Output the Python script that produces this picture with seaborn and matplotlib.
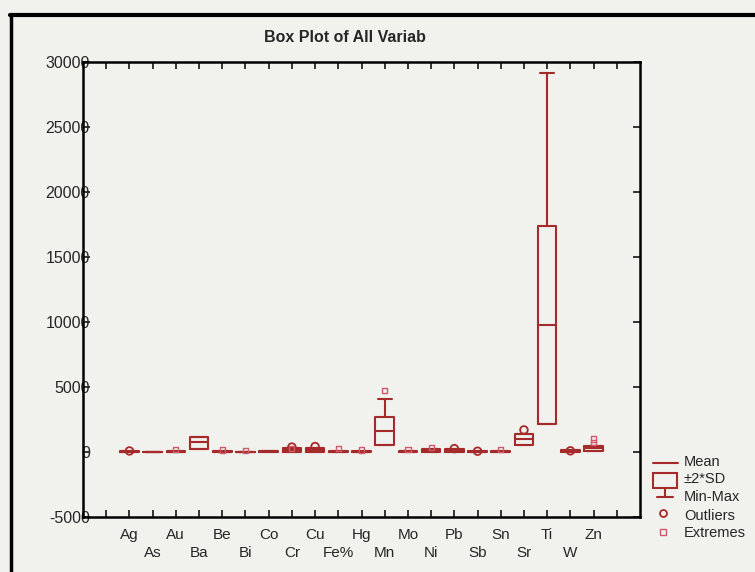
import numpy as np
import pandas as pd
import matplotlib
matplotlib.use("Agg")
import matplotlib.pyplot as plt
import seaborn as sns
from matplotlib.lines import Line2D
from matplotlib.patches import Rectangle

# ---------------- data ----------------
variables = ['Ag', 'As', 'Au', 'Ba', 'Be', 'Bi', 'Co', 'Cr', 'Cu', 'Fe%', 'Hg',
             'Mn', 'Mo', 'Ni', 'Pb', 'Sb', 'Sn', 'Sr', 'Ti', 'W', 'Zn']
means    = [20, 10, 30, 770, 20, 10, 40, 140, 170, 30, 20,
            1615, 40, 110, 150, 30, 30, 1000, 9770, 80, 270]
sd_low   = [-20, 0, 0, 230, 0, 0, 0, 0, 0, 0, 0,
            540, 0, 0, 0, 0, 0, 540, 2150, 0, 100]
sd_high  = [60, 30, 80, 1150, 50, 30, 90, 280, 300, 70, 60,
            2690, 90, 230, 260, 60, 70, 1380, 17400, 160, 450]
mins     = [-20, 0, 0, 230, 0, 0, 0, 0, 0, 0, 0,
            540, 0, 0, 0, 0, 0, 540, 2150, 0, 100]
maxs     = [60, 30, 80, 1150, 50, 30, 90, 280, 300, 70, 60,
            4080, 90, 230, 260, 60, 70, 1380, 29150, 160, 450]

outlier_vars = ['Ag', 'Cr', 'Cu', 'Pb', 'Sb', 'Sr', 'W']
outlier_vals = [80, 380, 420, 260, 60, 1700, 90]
extreme_vars = ['Au', 'Be', 'Bi', 'Cr', 'Fe%', 'Hg', 'Mn', 'Mo', 'Ni', 'Sn', 'Zn', 'Zn']
extreme_vals = [200, 150, 120, 300, 260, 150, 4750, 200, 350, 200, 700, 1000]

yticks = [-5000, 0, 5000, 10000, 15000, 20000, 25000, 30000]
title = "Box Plot of All Variab"
legend_labels = ["Mean", "\u00b12*SD", "Min-Max", "Outliers", "Extremes"]

# ---------------- style ----------------
sns.set_style("white")
plt.rcParams['font.family'] = ['Liberation Sans', 'DejaVu Sans']
RED = '#a52a2a'
PINK = '#cf5a6a'
BG = '#f1f1ee'

W, H = 755, 572
fig = plt.figure(figsize=(W / 100, H / 100), dpi=100, facecolor=BG)
ax = fig.add_axes([83 / W, 1 - 517 / H, (640 - 83) / W, (517 - 62) / H])
ax.set_facecolor(BG)

pos = np.arange(len(variables))
stats = []
for i, v in enumerate(variables):
    stats.append(dict(label=v, med=means[i], q1=sd_low[i], q3=sd_high[i],
                      whislo=mins[i], whishi=maxs[i], fliers=[]))
lp = dict(color=RED, linewidth=1.5)
ax.bxp(stats, positions=pos, widths=0.8, capwidths=0.6, showfliers=False,
       boxprops=lp, medianprops=lp, whiskerprops=lp, capprops=lp)

idx = {v: i for i, v in enumerate(variables)}
df_out = pd.DataFrame({'x': [idx[v] for v in outlier_vars], 'y': outlier_vals})
df_ext = pd.DataFrame({'x': [idx[v] for v in extreme_vars], 'y': extreme_vals})
sns.scatterplot(data=df_out, x='x', y='y', ax=ax, marker='o', s=30,
                facecolor='none', edgecolor=RED, linewidth=1.3, zorder=5)
sns.scatterplot(data=df_ext, x='x', y='y', ax=ax, marker='s', s=14,
                facecolor='none', edgecolor=PINK, linewidth=1.0, zorder=5)

ax.set_xlim(-2, 22)
ax.set_ylim(-5000, 30000)
ax.set_xlabel("")
ax.set_ylabel("")

# even-indexed names on the upper row (major ticks), odd on the lower row (minor ticks)
major = list(range(0, len(variables), 2))
minor = list(range(-1, 22, 2))
ax.set_xticks(major)
ax.set_xticklabels([variables[t] for t in major], fontsize=11)
ax.set_xticks(minor, minor=True)
ax.set_xticklabels([variables[t] if 0 <= t < len(variables) else "" for t in minor],
                   minor=True, fontsize=11)
ax.set_yticks(yticks)
ax.set_yticklabels([str(t) for t in yticks], fontsize=11.5)
ax.tick_params(axis='x', which='major', direction='in', length=5, width=1.3,
               top=True, bottom=True, pad=8)
ax.tick_params(axis='x', which='minor', direction='in', length=5, width=1.3,
               top=True, bottom=True, pad=21)
ax.tick_params(axis='y', direction='in', length=5, width=1.3, left=True, right=True, pad=-5)
for sp in ax.spines.values():
    sp.set_visible(True)
    sp.set_color('black')
    sp.set_linewidth(1.8)

fig.text(345 / W, 1 - 38 / H, title, ha='center', va='center',
         fontsize=11.5, fontweight='bold')

# ---------------- legend (figure pixel coords) ----------------
def P(x, y):
    return x / W, 1 - y / H

def fline(xs, ys, **kw):
    fig.add_artist(Line2D([x / W for x in xs], [1 - y / H for y in ys],
                          transform=fig.transFigure, **kw))

fline([653, 678], [463, 463], color=RED, lw=1.5)
fig.add_artist(Rectangle(P(653, 488), 24 / W, 15 / H, transform=fig.transFigure,
                         fill=False, edgecolor=RED, lw=1.5))
fline([665, 665], [488, 497], color=RED, lw=1.5)
fline([657, 673], [497, 497], color=RED, lw=1.5)
fig.add_artist(Line2D([663 / W], [1 - 513 / H], transform=fig.transFigure,
                      marker='o', markersize=5, markerfacecolor='none',
                      markeredgecolor=RED, markeredgewidth=1.3, linestyle='none'))
fig.add_artist(Line2D([663 / W], [1 - 532 / H], transform=fig.transFigure,
                      marker='s', markersize=4, markerfacecolor='none',
                      markeredgecolor=PINK, markeredgewidth=1.0, linestyle='none'))
for lab, y in zip(legend_labels, [462, 479, 497, 516, 533]):
    fig.text(*P(684, y), lab, ha='left', va='center', fontsize=10.5)

# outer frame of the scanned page
fline([10, 755], [15, 15], color='black', lw=3)
fline([11, 11], [15, 572], color='black', lw=2.5)

fig.savefig("out.png", dpi=100, facecolor=BG)
